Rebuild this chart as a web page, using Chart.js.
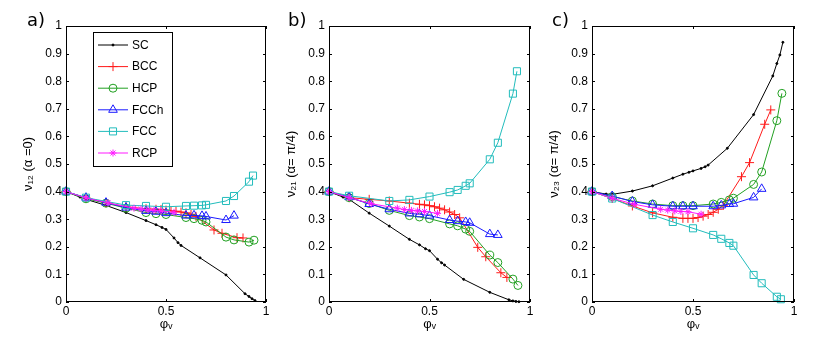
<!DOCTYPE html>
<html>
<head>
<meta charset="utf-8">
<script src="https://cdn.jsdelivr.net/npm/chart.js@4.4.1/dist/chart.umd.min.js"></script>
<style>
  html, body { margin: 0; padding: 0; background: #fff; }
  #wrap { position: relative; width: 822px; height: 340px; overflow: hidden; }
  canvas { position: absolute; top: 0; }
</style>
</head>
<body>
<div id="wrap">
  <canvas id="pa" width="268" height="340" style="left:6px"></canvas>
  <canvas id="pb" width="268" height="340" style="left:269px"></canvas>
  <canvas id="pc" width="268" height="340" style="left:532px"></canvas>
</div>
<script>
// axis ticks
var xTicks = [0, 0.5, 1];
var yTicks = [0, 0.1, 0.2, 0.3, 0.4, 0.5, 0.6, 0.7, 0.8, 0.9, 1];

var seriesNames = ['SC', 'BCC', 'HCP', 'FCCh', 'FCC', 'RCP'];

// volume fraction (x) for each series
var scX   = [0, 0.07, 0.1, 0.2, 0.3, 0.4, 0.45, 0.48, 0.5, 0.54, 0.56, 0.575, 0.67, 0.8, 0.895, 0.915, 0.93, 0.945];
var bccX  = [0, 0.1, 0.2, 0.3, 0.4, 0.45, 0.475, 0.5, 0.525, 0.55, 0.575, 0.6, 0.625, 0.65, 0.74, 0.78, 0.855, 0.885];
var hcpX  = [0, 0.1, 0.2, 0.3, 0.4, 0.45, 0.5, 0.6, 0.64, 0.68, 0.7, 0.8, 0.84, 0.915, 0.94];
var fcchX = [0, 0.1, 0.2, 0.3, 0.4, 0.45, 0.5, 0.6, 0.64, 0.68, 0.7, 0.8, 0.84];
var fccX  = [0, 0.1, 0.3, 0.4, 0.5, 0.6, 0.64, 0.68, 0.7, 0.8, 0.84, 0.915, 0.935];
var rcpX  = [0, 0.1, 0.21, 0.34, 0.375, 0.41, 0.44, 0.475, 0.54];

// a) nu12 (alpha = 0)
var scA   = [0.4, 0.38, 0.372, 0.35, 0.324, 0.295, 0.28, 0.27, 0.263, 0.232, 0.215, 0.205, 0.16, 0.098, 0.03, 0.02, 0.012, 0.005];
var bccA  = [0.4, 0.377, 0.36, 0.345, 0.338, 0.336, 0.335, 0.333, 0.331, 0.329, 0.326, 0.323, 0.318, 0.31, 0.261, 0.249, 0.233, 0.232];
var hcpA  = [0.4, 0.374, 0.358, 0.34, 0.324, 0.32, 0.317, 0.306, 0.302, 0.296, 0.29, 0.235, 0.225, 0.217, 0.224];
var fcchA = [0.4, 0.378, 0.36, 0.342, 0.33, 0.327, 0.322, 0.313, 0.314, 0.312, 0.31, 0.297, 0.313];
var fccA  = [0.4, 0.378, 0.351, 0.348, 0.345, 0.348, 0.349, 0.35, 0.352, 0.366, 0.384, 0.436, 0.458];
var rcpA  = [0.4, 0.377, 0.359, 0.34, 0.337, 0.334, 0.332, 0.33, 0.325];

// b) nu21 (alpha = pi/4)
var scB   = [0.4, 0.38, 0.372, 0.322, 0.275, 0.227, 0.207, 0.193, 0.186, 0.155, 0.142, 0.134, 0.082, 0.035, 0.008, 0.004, 0.002, 0.001];
var bccB  = [0.4, 0.378, 0.372, 0.366, 0.358, 0.354, 0.352, 0.349, 0.345, 0.34, 0.334, 0.326, 0.317, 0.305, 0.198, 0.164, 0.106, 0.089];
var hcpB  = [0.4, 0.378, 0.357, 0.332, 0.313, 0.308, 0.302, 0.283, 0.276, 0.264, 0.256, 0.17, 0.143, 0.083, 0.06];
var fcchB = [0.4, 0.38, 0.355, 0.336, 0.321, 0.318, 0.313, 0.297, 0.293, 0.29, 0.287, 0.246, 0.243];
var fccB  = [0.4, 0.385, 0.366, 0.37, 0.382, 0.398, 0.406, 0.421, 0.43, 0.517, 0.577, 0.755, 0.836];
var rcpB  = [0.4, 0.378, 0.356, 0.34, 0.335, 0.332, 0.33, 0.328, 0.321];

// c) nu23 (alpha = pi/4)
var scC   = [0.4, 0.391, 0.39, 0.402, 0.421, 0.449, 0.463, 0.47, 0.475, 0.484, 0.49, 0.496, 0.557, 0.679, 0.819, 0.864, 0.895, 0.941];
var bccC  = [0.4, 0.375, 0.348, 0.323, 0.307, 0.303, 0.303, 0.303, 0.306, 0.311, 0.317, 0.325, 0.336, 0.35, 0.454, 0.505, 0.644, 0.696];
var hcpC  = [0.4, 0.382, 0.366, 0.355, 0.349, 0.349, 0.349, 0.355, 0.361, 0.37, 0.376, 0.426, 0.471, 0.657, 0.756];
var fcchC = [0.4, 0.384, 0.364, 0.352, 0.347, 0.347, 0.347, 0.347, 0.35, 0.355, 0.356, 0.379, 0.41];
var fccC  = [0.4, 0.375, 0.315, 0.29, 0.267, 0.243, 0.229, 0.214, 0.204, 0.098, 0.068, 0.019, 0.01];
var rcpC  = [0.4, 0.376, 0.354, 0.336, 0.333, 0.33, 0.328, 0.327, 0.318];

Chart.defaults.color = '#000';
Chart.defaults.font.family = '"Liberation Sans", Arial, "DejaVu Sans", sans-serif';

var styles = [
  { color: '#000000', pointStyle: 'circle',   radius: 1,   fill: '#000000' },
  { color: '#ff1a1a', pointStyle: 'cross',    radius: 4.5, fill: 'rgba(0,0,0,0)' },
  { color: '#22a022', pointStyle: 'circle',   radius: 4,   fill: 'rgba(0,0,0,0)' },
  { color: '#1a1aff', pointStyle: 'triangle', radius: 5,   fill: 'rgba(0,0,0,0)' },
  { color: '#22bcbc', pointStyle: 'rect',     radius: 5,   fill: 'rgba(0,0,0,0)' },
  { color: '#ff1aff', pointStyle: 'star',     radius: 3.5, fill: 'rgba(0,0,0,0)' }
];

function pts(xs, ys) {
  return xs.map(function (x, i) { return { x: x, y: ys[i] }; });
}

function makeSets(ys) {
  var xs = [scX, bccX, hcpX, fcchX, fccX, rcpX];
  return ys.map(function (y, i) {
    var s = styles[i];
    return {
      label: seriesNames[i],
      data: pts(xs[i], y),
      showLine: true,
      borderColor: s.color,
      backgroundColor: s.fill,
      borderWidth: 1,
      pointStyle: s.pointStyle,
      pointRadius: s.radius,
      pointBorderColor: s.color,
      pointBackgroundColor: s.fill,
      pointBorderWidth: 1,
      order: 5 - i,
      clip: false
    };
  });
}

// box + inward ticks + panel letter + legend
var framePlugin = {
  id: 'frame',
  afterDraw: function (chart, args, opts) {
    var ctx = chart.ctx, a = chart.chartArea;
    var sx = chart.scales.x, sy = chart.scales.y;
    ctx.save();
    ctx.strokeStyle = '#000';
    ctx.lineWidth = 1;
    ctx.strokeRect(a.left + 0.5, a.top + 0.5, a.right - a.left - 1, a.bottom - a.top - 1);
    ctx.beginPath();
    xTicks.forEach(function (v) {
      var p = Math.round(sx.getPixelForValue(v)) + 0.5;
      ctx.moveTo(p, a.bottom); ctx.lineTo(p, a.bottom - 3);
      ctx.moveTo(p, a.top); ctx.lineTo(p, a.top + 3);
    });
    yTicks.forEach(function (v) {
      var p = Math.round(sy.getPixelForValue(v)) + 0.5;
      ctx.moveTo(a.left, p); ctx.lineTo(a.left + 3, p);
      ctx.moveTo(a.right, p); ctx.lineTo(a.right - 3, p);
    });
    ctx.stroke();

    ctx.fillStyle = '#000';
    ctx.font = '18px "DejaVu Sans", sans-serif';
    ctx.textAlign = 'left';
    ctx.textBaseline = 'alphabetic';
    ctx.fillText(opts.letter, opts.letterX, 26);

    if (opts.legend) {
      var lx = a.left + 27, ly = a.top + 6, lw = 79, lh = 134;
      ctx.fillStyle = '#fff';
      ctx.fillRect(lx, ly, lw, lh);
      ctx.strokeStyle = '#000';
      ctx.strokeRect(lx + 0.5, ly + 0.5, lw, lh);
      ctx.font = '12px "Liberation Sans", Arial, sans-serif';
      ctx.textBaseline = 'middle';
      chart.data.datasets.forEach(function (ds, i) {
        var yy = ly + 13 + i * 21.6;
        ctx.strokeStyle = ds.borderColor;
        ctx.beginPath();
        ctx.moveTo(lx + 5, yy); ctx.lineTo(lx + 35, yy);
        ctx.stroke();
        ctx.fillStyle = ds.pointBackgroundColor;
        Chart.helpers.drawPoint(ctx, {
          pointStyle: ds.pointStyle, radius: ds.pointRadius, rotation: 0, borderWidth: 1
        }, lx + 20, yy);
        ctx.fillStyle = '#000';
        ctx.fillText(ds.label, lx + 39, yy + 0.5);
      });
    }
    ctx.restore();
  }
};

function makePanel(id, ys, yTitle, letter, letterX, rightPad, legend) {
  return new Chart(document.getElementById(id), {
    type: 'scatter',
    data: { datasets: makeSets(ys) },
    options: {
      responsive: false,
      animation: false,
      devicePixelRatio: 1,
      layout: { padding: { left: 15, right: rightPad, top: 26, bottom: 8 } },
      plugins: {
        legend: { display: false },
        tooltip: { enabled: false },
        frame: { letter: letter, letterX: letterX, legend: legend }
      },
      scales: {
        x: {
          type: 'linear', min: 0, max: 1,
          afterBuildTicks: function (s) { s.ticks = xTicks.map(function (v) { return { value: v }; }); },
          afterFit: function (s) { s.height = 30; },
          ticks: { font: { size: 12 }, padding: 2, callback: function (v) { return String(v); } },
          grid: { display: false, drawTicks: false },
          border: { display: false },
          title: { display: true, text: 'φᵥ', font: { size: 13 }, padding: 0 }
        },
        y: {
          type: 'linear', min: 0, max: 1,
          afterBuildTicks: function (s) { s.ticks = yTicks.map(function (v) { return { value: v }; }); },
          afterFit: function (s) { s.width = 45; },
          ticks: { font: { size: 12 }, padding: 4, callback: function (v) { return String(v); } },
          grid: { display: false, drawTicks: false },
          border: { display: false },
          title: { display: true, text: yTitle, font: { size: 13 }, padding: 0 }
        }
      }
    },
    plugins: [framePlugin]
  });
}

makePanel('pa', [scA, bccA, hcpA, fcchA, fccA, rcpA], 'ν₁₂ (α =0)', 'a)', 21, 8, true);
makePanel('pb', [scB, bccB, hcpB, fcchB, fccB, rcpB], 'ν₂₁ (α= π/4)', 'b)', 19, 7, false);
makePanel('pc', [scC, bccC, hcpC, fcchC, fccC, rcpC], 'ν₂₃ (α= π/4)', 'c)', 20, 6, false);
</script>
</body>
</html>
